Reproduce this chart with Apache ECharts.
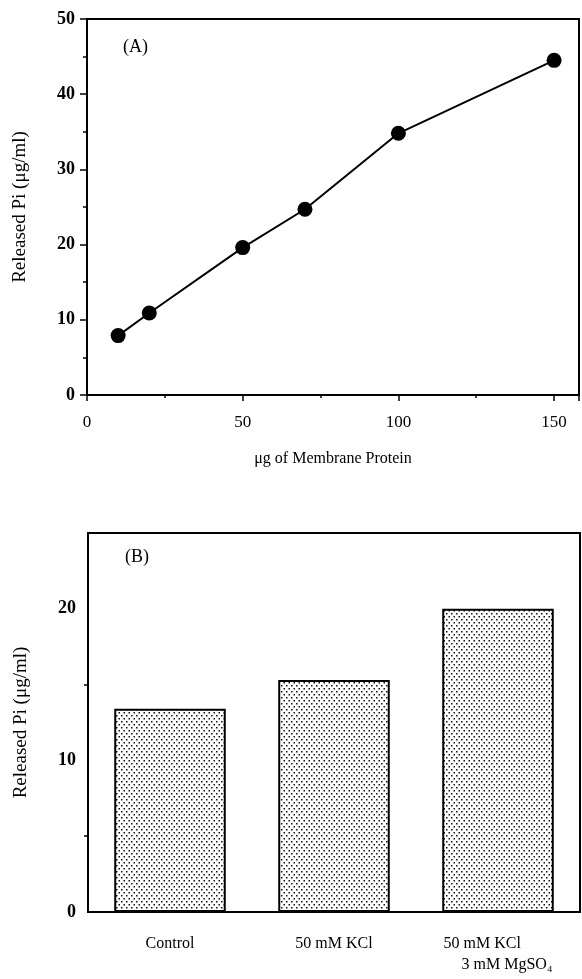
<!DOCTYPE html>
<html>
<head>
<meta charset="utf-8" />
<title>Released Pi</title>
<script type="text/javascript" src="https://cdn.jsdelivr.net/npm/echarts@6/dist/echarts.min.js"></script>
<style>
  html, body { margin: 0; padding: 0; background: #fff; }
  #chart { width: 582px; height: 979px; }
</style>
</head>
<body>
<div id="chart"></div>
<script type="text/javascript">
    // panel A: released Pi vs membrane protein
    var proteinUg = [10, 20, 50, 70, 100, 150];
    var releasedPiA = [7.9, 10.9, 19.6, 24.7, 34.8, 44.5];

    // panel B: released Pi by condition
    var conditions = ['Control', '50 mM KCl', '50 mM KCl\n3 mM MgSO₄'];
    var releasedPiB = [13.4, 15.3, 20.0];

    var font = '"Liberation Serif", "DejaVu Serif", serif';

    // dotted fill for the bars
    var tile = document.createElement('canvas');
    tile.width = 5;
    tile.height = 6;
    var ctx = tile.getContext('2d');
    ctx.fillStyle = '#fff';
    ctx.fillRect(0, 0, 5, 6);
    ctx.fillStyle = '#111';
    ctx.fillRect(1, 1, 1.5, 1.5);
    ctx.fillRect(3.5, 4, 1.5, 1.5);

    var lineData = proteinUg.map(function (x, i) { return [x, releasedPiA[i]]; });

    var axisLineStyle = { lineStyle: { color: '#000', width: 2 } };
    var yNameStyle = { fontFamily: font, fontSize: 19, color: '#000' };

    var myChart = echarts.init(document.getElementById('chart'));
    myChart.setOption({
        animation: false,
        backgroundColor: '#fff',
        title: [
            { text: '(A)', left: 118, top: 33, textStyle: { fontFamily: font, fontSize: 18, fontWeight: 'normal', color: '#000' } },
            { text: '(B)', left: 120, top: 543, textStyle: { fontFamily: font, fontSize: 18, fontWeight: 'normal', color: '#000' } }
        ],
        grid: [
            { left: 87, top: 19, width: 492, height: 376, show: true, borderColor: '#000', borderWidth: 2 },
            { left: 88, top: 533, width: 492, height: 379, show: true, borderColor: '#000', borderWidth: 2 }
        ],
        xAxis: [
            {
                gridIndex: 0, type: 'value', min: 0, max: 158, interval: 50,
                name: 'μg of Membrane Protein', nameLocation: 'middle', nameGap: 56,
                nameTextStyle: { fontFamily: font, fontSize: 16, color: '#000' },
                axisLine: axisLineStyle,
                axisTick: { length: 6, lineStyle: { color: '#000', width: 1.5 } },
                minorTick: { show: true, splitNumber: 2, length: 3, lineStyle: { color: '#000', width: 1.5 } },
                axisLabel: { fontFamily: font, fontSize: 17, color: '#000', margin: 19, showMaxLabel: false },
                splitLine: { show: false }
            },
            {
                gridIndex: 1, type: 'category', data: conditions,
                axisLine: axisLineStyle,
                axisTick: { length: 5, lineStyle: { color: '#000', width: 1.5 } },
                axisLabel: {
                    fontFamily: font, fontSize: 16, color: '#000', margin: 21, lineHeight: 21,
                    formatter: function (v) {
                        var parts = v.split('\n');
                        if (parts.length === 1) return v;
                        return '{a|' + parts[0] + '}\n{b|' + parts[1] + '}';
                    },
                    rich: {
                        a: { fontFamily: font, fontSize: 16, color: '#000', lineHeight: 21, align: 'left' },
                        b: { fontFamily: font, fontSize: 16, color: '#000', lineHeight: 21, align: 'left', padding: [0, 0, 0, 18] }
                    }
                }
            }
        ],
        yAxis: [
            {
                gridIndex: 0, type: 'value', min: 0, max: 50, interval: 10,
                name: 'Released Pi (μg/ml)', nameLocation: 'middle', nameGap: 57,
                nameTextStyle: yNameStyle,
                axisLine: axisLineStyle,
                axisTick: { length: 7, lineStyle: { color: '#000', width: 1.5 } },
                minorTick: { show: true, splitNumber: 2, length: 4, lineStyle: { color: '#000', width: 1.5 } },
                axisLabel: { fontFamily: font, fontSize: 18, fontWeight: 'bold', color: '#000', margin: 12 },
                splitLine: { show: false }
            },
            {
                gridIndex: 1, type: 'value', min: 0, max: 25, interval: 10,
                name: 'Released Pi (μg/ml)', nameLocation: 'middle', nameGap: 57,
                nameTextStyle: yNameStyle,
                axisLine: axisLineStyle,
                axisTick: { length: 7, lineStyle: { color: '#000', width: 1.5 } },
                minorTick: { show: true, splitNumber: 2, length: 4, lineStyle: { color: '#000', width: 1.5 } },
                axisLabel: { fontFamily: font, fontSize: 18, fontWeight: 'bold', color: '#000', margin: 12, showMaxLabel: false },
                splitLine: { show: false }
            }
        ],
        series: [
            {
                type: 'line', xAxisIndex: 0, yAxisIndex: 0,
                data: lineData,
                symbol: 'circle', symbolSize: 15,
                itemStyle: { color: '#000' },
                lineStyle: { color: '#000', width: 2 }
            },
            {
                type: 'bar', xAxisIndex: 1, yAxisIndex: 1,
                data: releasedPiB,
                barWidth: '68%',
                itemStyle: {
                    color: { image: tile, repeat: 'repeat' },
                    borderColor: '#000', borderWidth: 2
                }
            }
        ]
    });
</script>
</body>
</html>
